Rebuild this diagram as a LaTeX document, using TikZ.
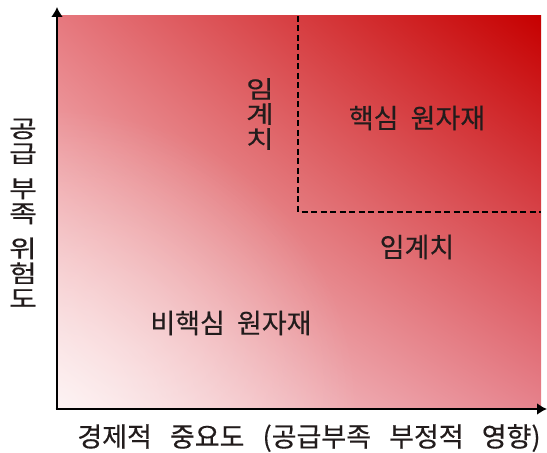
\documentclass[tikz,border=0pt]{standalone}
\usepackage{fontspec}
\setmainfont{Noto Sans CJK KR}
\newfontfamily\kr{Noto Sans CJK KR}[WordSpace=2,FakeBold=0.4]
\newfontfamily\krwide{Noto Sans CJK KR}[FakeStretch=1.25,FakeBold=0.4]
\usetikzlibrary{arrows.meta,shadings,fadings}
\definecolor{txt}{RGB}{34,28,28}
\definecolor{cTL}{RGB}{230,120,126}
\definecolor{cTR}{RGB}{198,0,0}
\definecolor{cBL}{RGB}{252,232,233}
\definecolor{cBR}{RGB}{230,130,140}
\tikzfading[name=lowglow, inner color=transparent!50, outer color=transparent!100]
\tikzset{
  lbl/.style={text=txt, inner sep=0pt, font=\kr\fontsize{27}{30}\selectfont},
  vlbl/.style={text=txt, inner sep=0pt, align=center, font=\krwide\fontsize{24}{25}\selectfont},
  axis/.style={line width=2.6pt, -{Latex[length=10pt,width=12pt]}},
  thresh/.style={line width=2pt, dash pattern=on 6pt off 3.5pt}
}
\begin{document}
\begin{tikzpicture}[x=1pt,y=1pt]
\useasboundingbox (0,0) rectangle (547,453);
\shade[upper left=cTL, upper right=cTR, lower left=cBL, lower right=cBR] (58,45) rectangle (541,437);
\begin{scope}
  \clip (58,45) rectangle (541,437);
  \fill[white, path fading=lowglow] (58,45) circle[radius=300];
\end{scope}
\coordinate (o) at (57,44);
\coordinate (ytop) at (57,446);
\coordinate (xend) at (547,44);
\coordinate (vtop) at (298,437);
\coordinate (corner) at (298,241);
\coordinate (hend) at (541,241);
\draw[thresh] (vtop) -- (corner) -- (hend);
\draw[axis] (o) -- (ytop);
\draw[axis] ([xshift=-1.3pt]o) -- (xend);
\node[lbl] (core) at (417,335) {핵심 원자재};
\node[lbl] (th1) at (417,206) {임계치};
\node[lbl] (noncore) at (231,130) {비핵심 원자재};
\node[vlbl] (th2) at (260,339) {임\\계\\치};
\node[vlbl] (ylab) at (23,240) {공\\급\\[10pt]부\\족\\[10pt]위\\험\\도};
\node[lbl] (xlab) at (309,15) {경제적\hspace{6pt} 중요도\hspace{6pt} (공급부족\hspace{6pt} 부정적\hspace{6pt} 영향)};
\end{tikzpicture}
\end{document}
